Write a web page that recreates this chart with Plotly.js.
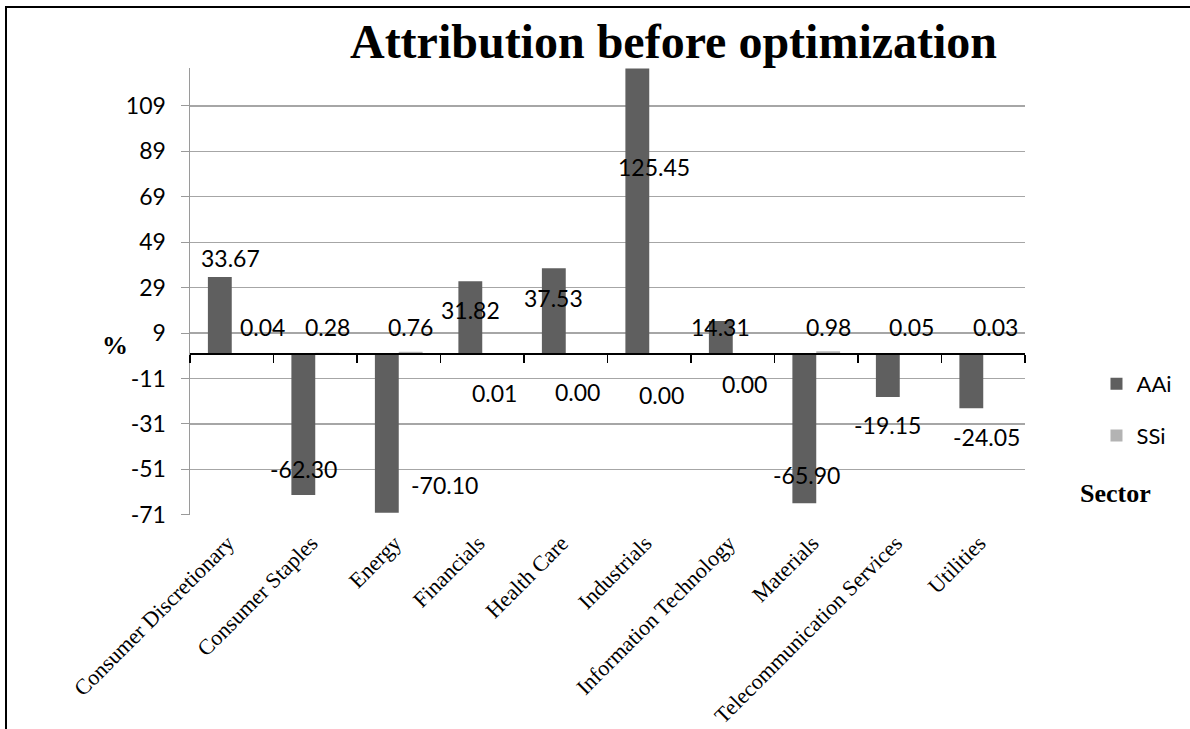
<!DOCTYPE html>
<html>
<head>
<meta charset="utf-8">
<script src="https://cdn.plot.ly/plotly-3.0.1.min.js"></script>
<style>
  html, body { margin: 0; padding: 0; background: #fff; }
  #wrap { position: relative; width: 1190px; height: 729px; overflow: hidden; }
  #chart { width: 1190px; height: 729px; }
  #frame { position: absolute; left: 5px; top: 6px; width: 1200px; height: 740px;
           border-top: 2px solid #000; border-left: 2px solid #000; pointer-events: none; }
</style>
</head>
<body>
<div id="wrap"><div id="chart"></div><div id="frame"></div></div>
<script>
// ---- data ----
const sectors = ["Consumer Discretionary", "Consumer Staples", "Energy", "Financials",
  "Health Care", "Industrials", "Information Technology", "Materials",
  "Telecommunication Services", "Utilities"];
const aai = [33.67, -62.30, -70.10, 31.82, 37.53, 125.45, 14.31, -65.90, -19.15, -24.05];
const ssi = [0.04, 0.28, 0.76, 0.01, 0.00, 0.00, 0.00, 0.98, 0.05, 0.03];
const yTicks = [-71, -51, -31, -11, 9, 29, 49, 69, 89, 109];

// ---- label placement tweaks (pixels, relative to bar end) ----
const aaiDx = [11, 0, 58, 0, 0, 17, 0, 2, 0, 15];
const aaiDy = [19, 26, 28, -29, -30, -98, -6, 28, -28, -29];
const ssiDx = [19, 0, 0, 0, 0, 0, 0, 0, 0, 0];
const ssiDy = [26, 26, 25, -40, -38, -41, -30, 24, 26, 26];

const W = 1190, H = 729;
const M = { l: 190, r: 159, t: 68, b: 214 };
const yRange = [-71.1, 125.7];
const bargap = 0.4286;
const plotW = W - M.l - M.r;
const plotH = H - M.t - M.b;
const catW = plotW / sectors.length;
const barW = catW * (1 - bargap) / 2;
const off = barW / 2;
const zeroPos = (0 - yRange[0]) / (yRange[1] - yRange[0]);

const labelFont = { family: "Lato", size: 23, color: "#000" };
const annotations = [];
aai.forEach((v, i) => annotations.push({
  x: sectors[i], y: v, xref: "x", yref: "y", text: v.toFixed(2), showarrow: false,
  xshift: -off + aaiDx[i], yshift: aaiDy[i], font: labelFont
}));
ssi.forEach((v, i) => annotations.push({
  x: sectors[i], y: v, xref: "x", yref: "y", text: v.toFixed(2), showarrow: false,
  xshift: off + ssiDx[i], yshift: ssiDy[i], font: labelFont
}));
annotations.push({
  xref: "paper", yref: "paper", x: (114.5 - M.l) / plotW, y: 1 - (345 - M.t) / plotH,
  text: "<b>%</b>", showarrow: false, xanchor: "center", yanchor: "middle",
  font: { family: "Liberation Serif", size: 26, color: "#000" }
});
annotations.push({
  xref: "paper", yref: "paper", x: (1122 - M.l) / plotW, y: 1 - (493 - M.t) / plotH,
  text: "<b>Sector</b>", showarrow: false, xanchor: "center", yanchor: "middle",
  font: { family: "Liberation Serif", size: 26, color: "#000" }
});

const traces = [
  { type: "bar", name: "AAi", x: sectors, y: aai, marker: { color: "#5f5f5f" },
    legendgroup: "a", hoverinfo: "skip" },
  { type: "bar", name: "SSi", x: sectors, y: ssi, marker: { color: "#b3b3b3" },
    legendgroup: "b", hoverinfo: "skip" },
  { type: "scatter", mode: "none", x: sectors, y: aai.map(() => 0), xaxis: "x2",
    showlegend: false, hoverinfo: "skip" }
];

const layout = {
  width: W, height: H,
  margin: M,
  paper_bgcolor: "#fff", plot_bgcolor: "#fff",
  barmode: "group", bargap: bargap, bargroupgap: 0,
  title: {
    text: "<b>Attribution before optimization</b>",
    font: { family: "Liberation Serif", size: 48, color: "#000" },
    xref: "container", yref: "container", x: 673.5 / W, xanchor: "center",
    y: 1 - 41 / H, yanchor: "middle"
  },
  xaxis: {
    type: "category", categoryarray: sectors, range: [-0.5, sectors.length - 0.5],
    tickangle: -45, tickfont: { family: "Liberation Serif", size: 22, color: "#000" },
    ticks: "", ticklabelstandoff: 10, ticklabelshift: -4,
    showgrid: false, showline: false, zeroline: false, fixedrange: true
  },
  xaxis2: {
    type: "category", categoryarray: sectors, range: [-0.5, sectors.length - 0.5],
    overlaying: "x", anchor: "free", position: zeroPos, side: "bottom",
    showline: true, linecolor: "#000", linewidth: 2,
    ticks: "outside", tickson: "boundaries", ticklen: 8, tickwidth: 1.5, tickcolor: "#000",
    showticklabels: false, showgrid: false, zeroline: false, fixedrange: true
  },
  yaxis: {
    range: yRange, tickvals: yTicks, ticktext: yTicks.map(String),
    ticks: "outside", ticklen: 8, tickcolor: "#9a9a9a", tickwidth: 1,
    showline: true, linecolor: "#9a9a9a", linewidth: 1.5,
    showgrid: true, gridcolor: "#a6a6a6", gridwidth: 1.3, zeroline: false,
    tickfont: { family: "Lato", size: 23, color: "#000" }, ticklabelstandoff: 10,
    fixedrange: true
  },
  showlegend: true,
  legend: {
    x: (1103 - M.l) / plotW, xanchor: "left", y: 1 - (363 - M.t) / plotH, yanchor: "top",
    font: { family: "Lato", size: 22, color: "#000" }, traceorder: "grouped", tracegroupgap: 20,
    bgcolor: "rgba(0,0,0,0)", borderwidth: 0
  },
  annotations: annotations
};

Plotly.newPlot("chart", traces, layout, { displayModeBar: false, staticPlot: true });
</script>
</body>
</html>
